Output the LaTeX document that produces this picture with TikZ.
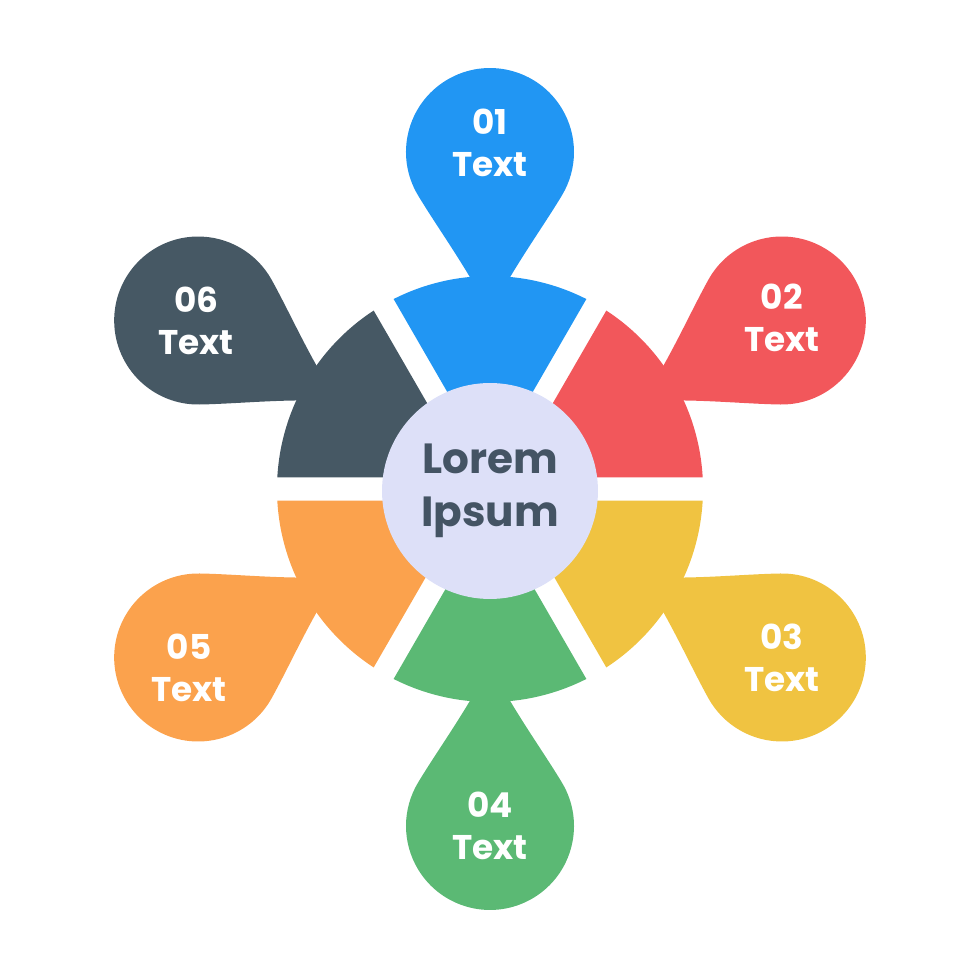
\documentclass[tikz,border=0pt]{standalone}
\usepackage{fontspec}
\setmainfont{Poppins}
\usepackage{xcolor}
\usepackage{tikz}
\usetikzlibrary{calc}
\definecolor{petalBlue}{HTML}{2196F3}
\definecolor{petalRed}{HTML}{F2575B}
\definecolor{petalYellow}{HTML}{F0C341}
\definecolor{petalGreen}{HTML}{5BB974}
\definecolor{petalOrange}{HTML}{FBA24D}
\definecolor{petalSlate}{HTML}{465864}
\definecolor{hubFill}{HTML}{DDE0F8}
\definecolor{hubText}{HTML}{445464}

\tikzset{
  petal label/.style={text=white, align=center, inner sep=0pt,
        font=\bfseries\fontsize{19.5}{23.8}\selectfont},
  hub/.style={circle, fill=hubFill, minimum size=4.32cm, inner sep=0pt,
        text=hubText, align=center, font=\bfseries\fontsize{24}{30.5}\selectfont}
}

\begin{document}
\begin{tikzpicture}[x=0.02cm, y=0.02cm]
  \useasboundingbox (-490,-491) rectangle (490,489);
  % six ring segments, each with its drop
  \foreach \ang/\col/\num/\dx/\dy [count=\i] in {90/petalBlue/01/0/9,
      30/petalRed/02/0/3, -30/petalYellow/03/0/0, -90/petalGreen/04/0/0,
      -150/petalOrange/05/-9/-10, 150/petalSlate/06/-2/0} {
    \fill[\col] (\ang:23) -- (\ang-26.9:213)
      arc[start angle=\ang-26.9, end angle=\ang+26.9, radius=213] -- cycle;
    \begin{scope}[rotate=\ang]
      \fill[\col] (174,0) .. controls (214,18) and (259.4,51.4) .. (293.7,72)
        arc[start angle=121, end angle=-121, radius=84]
        .. controls (259.4,-51.4) and (214,-18) .. (174,0) -- cycle;
    \end{scope}
    \node[petal label] (lab\i) at ($(\ang:337)+(\dx,\dy)$) {\num\\Text};
  }
  \node[hub] (hub) at (0,-2) {Lorem\\Ipsum};
\end{tikzpicture}
\end{document}
